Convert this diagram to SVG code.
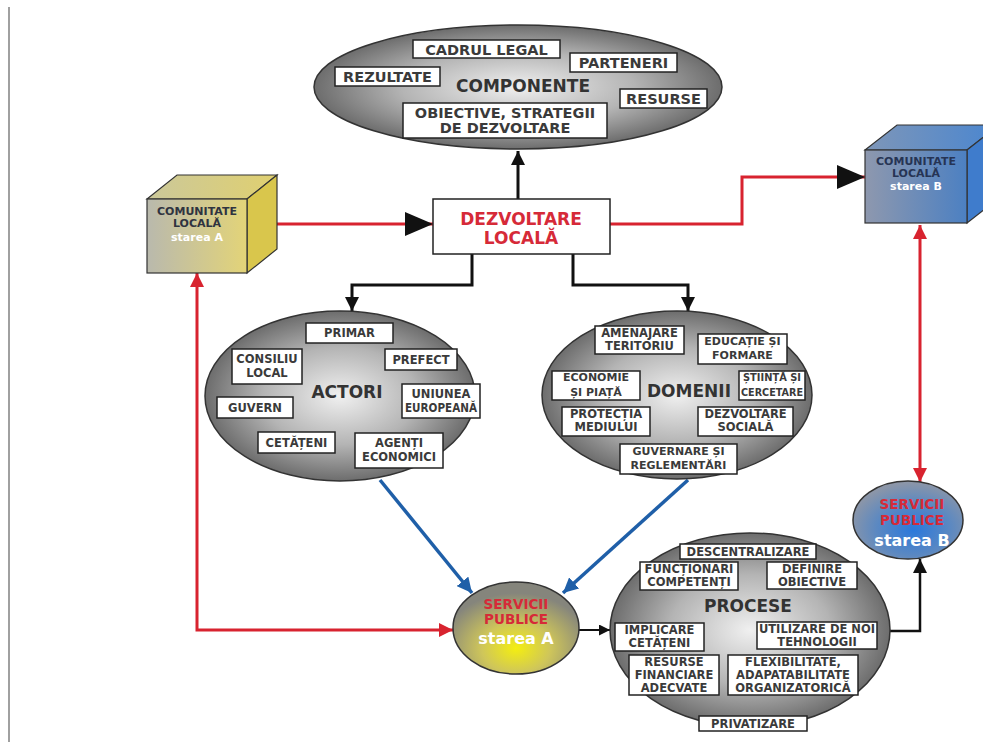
<svg xmlns="http://www.w3.org/2000/svg" width="983" height="742" viewBox="0 0 983 742">
<defs>
<radialGradient id="gg" cx="50%" cy="50%" r="52%">
<stop offset="0" stop-color="#f0f0f0"/><stop offset="0.55" stop-color="#b4b4b4"/><stop offset="1" stop-color="#666"/>
</radialGradient>
<radialGradient id="ga" cx="50%" cy="72%" r="60%">
<stop offset="0" stop-color="#f4ee10"/><stop offset="0.45" stop-color="#cfc65a"/><stop offset="1" stop-color="#85857c"/>
</radialGradient>
<radialGradient id="gb" cx="55%" cy="62%" r="60%">
<stop offset="0" stop-color="#2a78dc"/><stop offset="0.55" stop-color="#5a88c2"/><stop offset="1" stop-color="#8c96a8"/>
</radialGradient>
<linearGradient id="cafront" x1="0" y1="0" x2="1" y2="0">
<stop offset="0" stop-color="#b9b9ad"/><stop offset="1" stop-color="#e3d478"/>
</linearGradient>
<linearGradient id="catop" x1="0" y1="0" x2="1" y2="0">
<stop offset="0" stop-color="#cbc89a"/><stop offset="1" stop-color="#e0d070"/>
</linearGradient>
<linearGradient id="cbfront" x1="0" y1="0" x2="1" y2="0">
<stop offset="0" stop-color="#8e98ae"/><stop offset="1" stop-color="#4c80c2"/>
</linearGradient>
<linearGradient id="cbtop" x1="0" y1="0" x2="1" y2="0">
<stop offset="0" stop-color="#7e96b8"/><stop offset="1" stop-color="#4a86d0"/>
</linearGradient>
<marker id="ab" viewBox="0 0 10 10" refX="10" refY="5" markerWidth="14" markerHeight="14" markerUnits="userSpaceOnUse" orient="auto"><path d="M0,0 L10,5 L0,10 z" fill="#111"/></marker>
<marker id="abs" viewBox="0 0 10 10" refX="10" refY="5" markerWidth="11" markerHeight="11" markerUnits="userSpaceOnUse" orient="auto"><path d="M0,0 L10,5 L0,10 z" fill="#111"/></marker>
<marker id="ar" viewBox="0 0 10 10" refX="10" refY="5" markerWidth="14" markerHeight="14" markerUnits="userSpaceOnUse" orient="auto-start-reverse"><path d="M0,0 L10,5 L0,10 z" fill="#d8232f"/></marker>
<marker id="abl" viewBox="0 0 10 10" refX="10" refY="5" markerWidth="15" markerHeight="15" markerUnits="userSpaceOnUse" orient="auto"><path d="M0,0 L10,5 L0,10 z" fill="#1f5fa8"/></marker>
<marker id="big" viewBox="0 0 28 24" refX="28" refY="12" markerWidth="28" markerHeight="24" markerUnits="userSpaceOnUse" orient="auto"><path d="M0,0 L28,12 L0,24 z" fill="#111"/></marker>
</defs>
<style>
text{font-family:"DejaVu Sans","Liberation Sans",sans-serif;font-weight:bold;text-anchor:middle}
.el{fill:url(#gg);stroke:#333;stroke-width:1.5}
.bx{fill:#fff;stroke:#222;stroke-width:1.5}
.t{font-size:11.5px;fill:#3a3a3a}
.ts{font-size:11px;fill:#3a3a3a}
.tl{font-size:14.5px;fill:#3a3a3a}
.h{font-size:17px;fill:#333}
.ct{font-size:11px;fill:#2f3340}
.red{fill:#d62a38}
.wh{fill:#fff}
.cube{stroke:#333;stroke-width:1.2}
.cn{fill:none}
.lk{stroke:#111;stroke-width:3}
.lr{stroke:#d8232f;stroke-width:3}
.lb{stroke:#1f5fa8;stroke-width:3.5}
</style>
<rect x="0" y="0" width="983" height="742" fill="#fff"/>
<line x1="9" y1="7" x2="9" y2="742" stroke="#a0a0a0" stroke-width="2"/>

<g id="connectors" class="cn">
<path class="lk" d="M518,199 V151" marker-end="url(#ab)"/>
<path class="lk" d="M472,254 V285 H352 V311" marker-end="url(#ab)"/>
<path class="lk" d="M573,254 V285 H688 V311" marker-end="url(#ab)"/>
<path class="lr" d="M257,224 H433" marker-end="url(#big)"/>
<path class="lr" d="M610,224 H742 V177 H865" marker-end="url(#big)"/>
<path class="lr" d="M920,225 V482" marker-start="url(#ar)" marker-end="url(#ar)"/>
<path class="lr" d="M197,273 V630 H453" marker-start="url(#ar)" marker-end="url(#ar)"/>
<path class="lb" d="M380,480 L472,593" marker-end="url(#abl)"/>
<path class="lb" d="M688,480 L563,593" marker-end="url(#abl)"/>
<path stroke="#111" stroke-width="2" d="M579,630 H610" marker-end="url(#abs)"/>
<path stroke="#111" stroke-width="2.5" d="M890,631 H920 V559" marker-end="url(#ab)"/>
</g>

<g id="componente">
<ellipse class="el" cx="518" cy="87" rx="204" ry="62"/>
<rect class="bx" x="413" y="40" width="147" height="18"/>
<text class="tl" x="486.5" y="55">CADRUL LEGAL</text>
<rect class="bx" x="570" y="53" width="107" height="19"/>
<text class="tl" x="623.5" y="68">PARTENERI</text>
<rect class="bx" x="335" y="67" width="105" height="19"/>
<text class="tl" x="387.5" y="82">REZULTATE</text>
<text class="h" x="523" y="92">COMPONENTE</text>
<rect class="bx" x="620" y="89" width="87" height="19"/>
<text class="tl" x="663.5" y="104">RESURSE</text>
<rect class="bx" x="403" y="103" width="204" height="35"/>
<text class="tl" x="505" y="118">OBIECTIVE, STRATEGII</text>
<text class="tl" x="505" y="133">DE DEZVOLTARE</text>
</g>

<g id="dezvoltare">
<rect x="433" y="199" width="177" height="55" fill="#fff" stroke="#222" stroke-width="1.5"/>
<text class="red" x="521" y="225" font-size="17">DEZVOLTARE</text>
<text class="red" x="521" y="244" font-size="17">LOCALĂ</text>
</g>

<g id="comunitate-a">
<polygon class="cube" points="147,199 177,175 277,175 247,199" fill="url(#catop)"/>
<polygon class="cube" points="247,199 277,175 277,249 247,273" fill="#d9c64c"/>
<rect class="cube" x="147" y="199" width="100" height="74" fill="url(#cafront)"/>
<text class="ct" x="197" y="215">COMUNITATE</text>
<text class="ct" x="197" y="227">LOCALĂ</text>
<text class="ct wh" x="197" y="241">starea A</text>
</g>

<g id="comunitate-b">
<polygon class="cube" points="865,150 897,125 999,125 967,150" fill="url(#cbtop)"/>
<polygon class="cube" points="967,150 999,125 999,198 967,223" fill="#3f7ccc"/>
<rect class="cube" x="865" y="150" width="102" height="73" fill="url(#cbfront)"/>
<text class="ct" x="916" y="165" style="fill:#263454">COMUNITATE</text>
<text class="ct" x="916" y="177" style="fill:#263454">LOCALĂ</text>
<text class="ct wh" x="916" y="190">starea B</text>
</g>

<g id="actori">
<ellipse class="el" cx="340" cy="396" rx="135" ry="85"/>
<rect class="bx" x="306" y="323" width="87" height="20"/>
<text class="t" x="349.5" y="337">PRIMAR</text>
<rect class="bx" x="232" y="349" width="70" height="35"/>
<text class="t" x="267" y="363">CONSILIU</text>
<text class="t" x="267" y="377">LOCAL</text>
<rect class="bx" x="385" y="349" width="72" height="21"/>
<text class="t" x="421" y="364">PREFECT</text>
<text class="h" x="347" y="398">ACTORI</text>
<rect class="bx" x="217" y="397" width="76" height="21"/>
<text class="t" x="255" y="412">GUVERN</text>
<rect class="bx" x="402" y="384" width="78" height="34"/>
<text class="t" x="441" y="398">UNIUNEA</text>
<text class="t" x="441" y="412" textLength="72" lengthAdjust="spacingAndGlyphs">EUROPEANĂ</text>
<rect class="bx" x="258" y="432" width="77" height="21"/>
<text class="t" x="296.5" y="447">CETĂȚENI</text>
<rect class="bx" x="355" y="433" width="88" height="35"/>
<text class="t" x="399" y="447">AGENȚI</text>
<text class="t" x="399" y="461">ECONOMICI</text>
</g>

<g id="domenii">
<ellipse class="el" cx="677" cy="395" rx="135" ry="84"/>
<rect class="bx" x="595" y="326" width="89" height="28"/>
<text class="t" x="639.5" y="337">AMENAJARE</text>
<text class="t" x="639.5" y="350">TERITORIU</text>
<rect class="bx" x="698" y="334" width="89" height="30"/>
<text class="ts" x="742.5" y="345">EDUCAȚIE ȘI</text>
<text class="ts" x="742.5" y="359">FORMARE</text>
<rect class="bx" x="552" y="371" width="88" height="29"/>
<text class="ts" x="596" y="381">ECONOMIE</text>
<text class="ts" x="596" y="396">ȘI PIAȚĂ</text>
<text class="h" x="689" y="397">DOMENII</text>
<rect class="bx" x="739" y="371" width="66" height="29"/>
<text class="ts" x="772" y="381" textLength="58" lengthAdjust="spacingAndGlyphs">ȘTIINȚĂ ȘI</text>
<text class="ts" x="772" y="396" textLength="62" lengthAdjust="spacingAndGlyphs">CERCETARE</text>
<rect class="bx" x="562" y="407" width="88" height="29"/>
<text class="t" x="606" y="418">PROTECȚIA</text>
<text class="t" x="606" y="431">MEDIULUI</text>
<rect class="bx" x="698" y="407" width="95" height="29"/>
<text class="t" x="745.5" y="418">DEZVOLTARE</text>
<text class="t" x="745.5" y="431">SOCIALĂ</text>
<rect class="bx" x="620" y="444" width="117" height="30"/>
<text class="ts" x="678.5" y="455">GUVERNARE ȘI</text>
<text class="ts" x="678.5" y="469">REGLEMENTĂRI</text>
</g>

<g id="servicii-a">
<ellipse cx="516" cy="628" rx="63" ry="46" fill="url(#ga)" stroke="#333" stroke-width="1.5"/>
<text class="red" x="516" y="609" font-size="13.5">SERVICII</text>
<text class="red" x="516" y="624" font-size="13.5">PUBLICE</text>
<text class="wh" x="516" y="644" font-size="16">starea A</text>
</g>

<g id="procese">
<ellipse class="el" cx="750" cy="630" rx="140" ry="97"/>
<rect class="bx" x="680" y="544" width="136" height="15"/>
<text class="t" x="748" y="556">DESCENTRALIZARE</text>
<rect class="bx" x="640" y="562" width="98" height="28"/>
<text class="t" x="689" y="573">FUNCȚIONARI</text>
<text class="t" x="689" y="586">COMPETENȚI</text>
<rect class="bx" x="767" y="562" width="90" height="27"/>
<text class="t" x="812" y="573">DEFINIRE</text>
<text class="t" x="812" y="586">OBIECTIVE</text>
<text class="h" x="748" y="612" font-size="18">PROCESE</text>
<rect class="bx" x="615" y="623" width="89" height="28"/>
<text class="t" x="659.5" y="634">IMPLICARE</text>
<text class="t" x="659.5" y="647">CETĂȚENI</text>
<rect class="bx" x="757" y="622" width="120" height="27"/>
<text class="t" x="817" y="633">UTILIZARE DE NOI</text>
<text class="t" x="817" y="646">TEHNOLOGII</text>
<rect class="bx" x="629" y="655" width="90" height="40"/>
<text class="t" x="674" y="666">RESURSE</text>
<text class="t" x="674" y="679">FINANCIARE</text>
<text class="t" x="674" y="692">ADECVATE</text>
<rect class="bx" x="728" y="655" width="130" height="40"/>
<text class="t" x="793" y="666">FLEXIBILITATE,</text>
<text class="t" x="793" y="679">ADAPATABILITATE</text>
<text class="t" x="793" y="692">ORGANIZATORICĂ</text>
<rect class="bx" x="699" y="716" width="108" height="15"/>
<text class="t" x="753" y="728">PRIVATIZARE</text>
</g>

<g id="servicii-b">
<ellipse cx="908" cy="520" rx="55" ry="39" fill="url(#gb)" stroke="#333" stroke-width="1.5"/>
<text class="red" x="912" y="509" font-size="13.5">SERVICII</text>
<text class="red" x="912" y="525" font-size="13.5">PUBLICE</text>
<text class="wh" x="912" y="546" font-size="16">starea B</text>
</g>
</svg>
